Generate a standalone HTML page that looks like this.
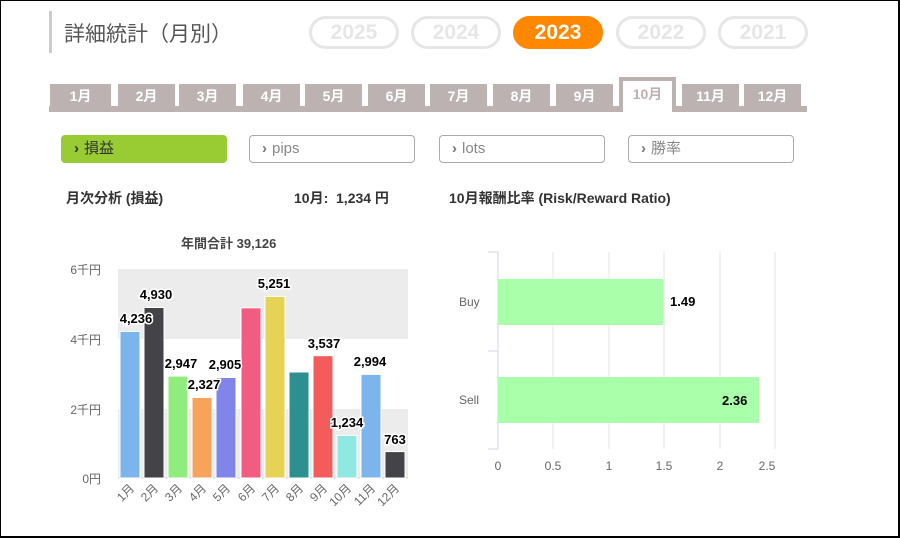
<!DOCTYPE html>
<html><head><meta charset="utf-8"><style>
*{margin:0;padding:0;box-sizing:border-box}
body{width:900px;height:538px;background:#fff;position:relative;overflow:hidden;font-family:"Liberation Sans","Noto Sans CJK JP",sans-serif;border:1px solid #000;border-right:2px solid #000;border-bottom:2px solid #000}
.a{position:absolute}
.pill{position:absolute;top:15px;height:33px;width:90px;border:3px solid #e6e6e6;border-radius:17px;color:#e6e6e6;font-weight:bold;font-size:21px;text-align:center;line-height:27px}
.tab{position:absolute;top:83px;height:23px;width:57px;background:#bcb2b2;color:#fff;font-weight:bold;font-size:14px;text-align:center;line-height:25px}
.btn{position:absolute;top:134px;height:28px;width:166px;border:1px solid #aaa;border-radius:4px;color:#888;font-size:15px;line-height:26px;padding-left:12px}
.btn b{color:#777;margin-right:5px}
.h{font-weight:bold;font-size:14px;color:#333}
</style></head><body>
<div class="a" style="left:48px;top:10px;width:3px;height:42px;background:#ccc"></div>
<div class="a" style="left:63px;top:17px;font-size:21px;color:#555">詳細統計（月別）</div>
<div class="pill" style="left:308px">2025</div>
<div class="pill" style="left:410px">2024</div>
<div class="pill" style="left:512px;background:#ff8800;border-color:#ff8800;color:#fff">2023</div>
<div class="pill" style="left:615px">2022</div>
<div class="pill" style="left:717px">2021</div>
<div class="a" style="left:48px;top:105px;width:758px;height:6px;background:#bcb2b2"></div>
<div class="tab" style="left:49px;width:61px">1月</div>
<div class="tab" style="left:117px">2月</div>
<div class="tab" style="left:178px">3月</div>
<div class="tab" style="left:242px">4月</div>
<div class="tab" style="left:304px">5月</div>
<div class="tab" style="left:367px">6月</div>
<div class="tab" style="left:429px">7月</div>
<div class="tab" style="left:492px">8月</div>
<div class="tab" style="left:555px">9月</div>
<div class="tab" style="left:618px;top:76px;height:35px;background:#fff;border:4px solid #bcb2b2;border-bottom:none;color:#bcb2b2;line-height:26px">10月</div>
<div class="tab" style="left:681px">11月</div>
<div class="tab" style="left:743px">12月</div>
<div class="btn" style="left:60px;background:#99cc33;border-color:#99cc33;color:#333"><b style="color:#333">&#x203A;</b>損益</div>
<div class="btn" style="left:248px"><b>&#x203A;</b>pips</div>
<div class="btn" style="left:438px"><b>&#x203A;</b>lots</div>
<div class="btn" style="left:627px"><b>&#x203A;</b>勝率</div>
<div class="a h" style="left:65px;top:187px">月次分析 (損益)</div>
<div class="a h" style="left:293px;top:187px">10月:&nbsp; 1,234 円</div>
<div class="a h" style="left:448px;top:187px">10月報酬比率 (Risk/Reward Ratio)</div>
<div class="a h" style="left:180px;top:232px;font-size:13px;color:#444">年間合計 39,126</div>
<svg class="a" style="left:0;top:0" width="900" height="538" font-family="Liberation Sans, Noto Sans CJK JP, sans-serif">
<rect x="117" y="268" width="290" height="70" fill="#ececec"/>
<rect x="117" y="408" width="290" height="69" fill="#ececec"/>
<line x1="117" y1="477" x2="407" y2="477" stroke="#ccd6eb"/>
<g font-size="12" fill="#666" text-anchor="end">
<text x="100" y="273">6千円</text><text x="100" y="343">4千円</text><text x="100" y="413">2千円</text><text x="100" y="482">0円</text></g>
<g stroke="#fff" stroke-width="1">
<rect x="119" y="330.4" width="20" height="146.6" fill="#7cb5ec"/>
<rect x="143" y="306.5" width="20" height="170.5" fill="#434348"/>
<rect x="167" y="375.1" width="20" height="101.9" fill="#90ed7d"/>
<rect x="191" y="396.5" width="20" height="80.5" fill="#f7a35c"/>
<rect x="215" y="376.5" width="20" height="100.5" fill="#8085e9"/>
<rect x="240" y="306.8" width="20" height="170.2" fill="#f15c80"/>
<rect x="264" y="295.4" width="20" height="181.6" fill="#e4d354"/>
<rect x="288" y="371" width="20" height="106" fill="#2b908f"/>
<rect x="312" y="354.7" width="20" height="122.3" fill="#f45b5b"/>
<rect x="336" y="434.3" width="20" height="42.7" fill="#91e8e1"/>
<rect x="360" y="373.4" width="20" height="103.6" fill="#7cb5ec"/>
<rect x="384" y="450.6" width="20" height="26.4" fill="#434348"/>
</g>
<g font-size="13" font-weight="bold" fill="#000" text-anchor="middle" stroke="#fff" stroke-width="3" paint-order="stroke">
<text x="135" y="322">4,236</text><text x="155" y="298">4,930</text><text x="180" y="367">2,947</text>
<text x="203" y="388">2,327</text><text x="224" y="368">2,905</text><text x="273" y="287">5,251</text>
<text x="323" y="347">3,537</text><text x="346" y="426">1,234</text><text x="369" y="365">2,994</text><text x="394" y="443">763</text></g>
<g font-size="12" fill="#666" text-anchor="end">
<text transform="translate(134,488) rotate(-45)">1月</text><text transform="translate(158,488) rotate(-45)">2月</text>
<text transform="translate(182,488) rotate(-45)">3月</text><text transform="translate(206,488) rotate(-45)">4月</text>
<text transform="translate(230,488) rotate(-45)">5月</text><text transform="translate(255,488) rotate(-45)">6月</text>
<text transform="translate(279,488) rotate(-45)">7月</text><text transform="translate(303,488) rotate(-45)">8月</text>
<text transform="translate(327,488) rotate(-45)">9月</text><text transform="translate(351,488) rotate(-45)">10月</text>
<text transform="translate(375,488) rotate(-45)">11月</text><text transform="translate(399,488) rotate(-45)">12月</text></g>
<g stroke="#e6e6e6"><line x1="552" y1="251" x2="552" y2="448"/><line x1="608" y1="251" x2="608" y2="448"/><line x1="663" y1="251" x2="663" y2="448"/><line x1="719" y1="251" x2="719" y2="448"/><line x1="774" y1="251" x2="774" y2="448"/></g>
<g stroke="#ccd6eb"><line x1="497" y1="251" x2="497" y2="448"/><line x1="487" y1="251" x2="497" y2="251"/><line x1="487" y1="350" x2="497" y2="350"/><line x1="487" y1="448" x2="497" y2="448"/></g>
<rect x="497" y="278" width="165" height="46" fill="#aaffaa"/>
<rect x="497" y="376" width="261" height="46" fill="#aaffaa"/>
<g font-size="13" font-weight="bold" fill="#000"><text x="669" y="305">1.49</text><text x="721" y="404">2.36</text></g>
<g font-size="12" fill="#666"><text x="458" y="305">Buy</text><text x="458" y="403">Sell</text></g>
<g font-size="12" fill="#666" text-anchor="middle"><text x="497" y="469">0</text><text x="552" y="469">0.5</text><text x="608" y="469">1</text><text x="663" y="469">1.5</text><text x="719" y="469">2</text><text x="766" y="469">2.5</text></g>
</svg>
</body></html>
